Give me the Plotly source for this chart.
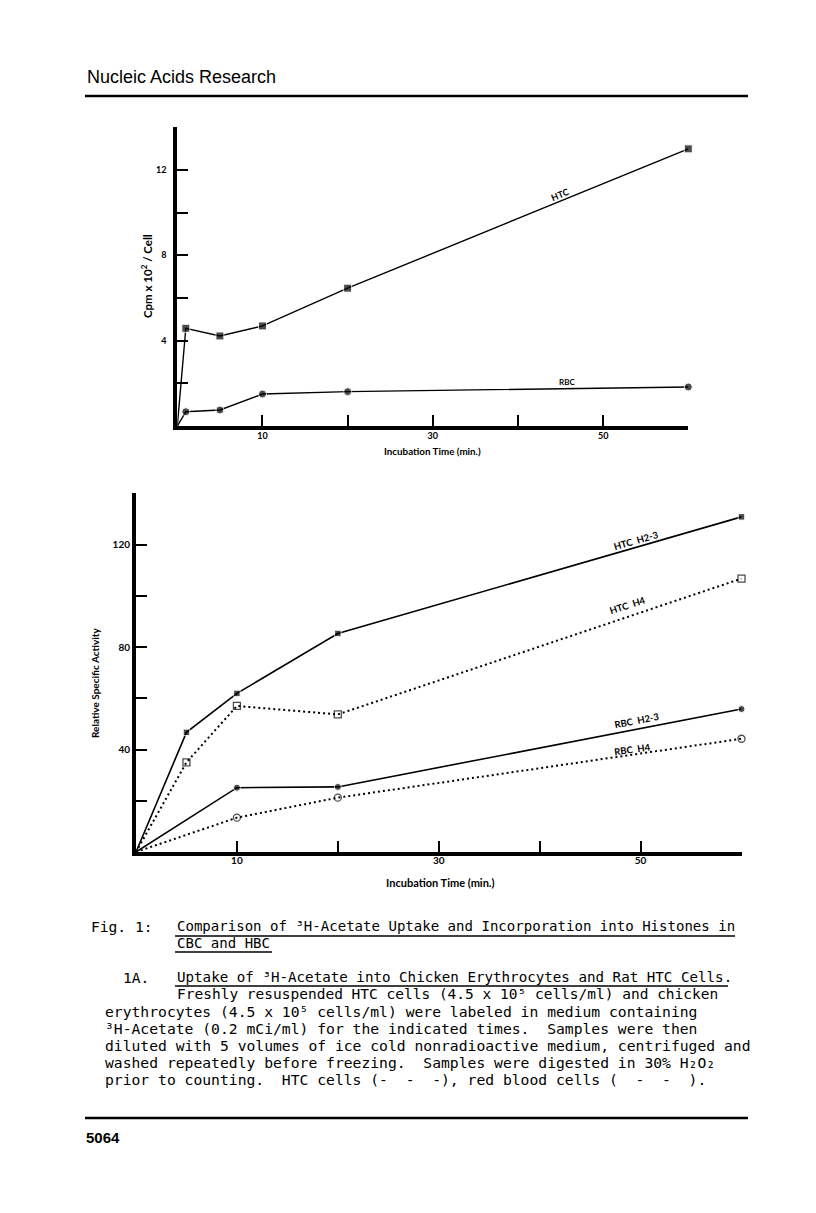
import plotly.graph_objects as go

# page size in px; the html body keeps its 8px margin, so the figure is
# made 16px smaller and every page position is shifted by 8px
PAGE_W, PAGE_H = 816, 1213
OFF = 8
W, H = PAGE_W - 2 * OFF, PAGE_H - 2 * OFF


def px(x):
    return (x - OFF) / W


def py(y):
    return 1 - (y - OFF) / H


# =========================
# Data - Fig. 1A (uptake)
# =========================
time_a = [0, 1, 5, 10, 20, 60]
htc_a = [0, 4.58, 4.22, 4.69, 6.46, 12.99]
rbc_a = [0, 0.67, 0.75, 1.5, 1.61, 1.83]

# =========================
# Data - Fig. 1B (incorporation into histones)
# =========================
time_htc = [0, 5, 10, 20, 60]
htc_h23 = [0, 46.7, 61.9, 85.3, 130.8]
htc_h4 = [0, 35.0, 57.0, 53.7, 106.7]
time_rbc = [0, 10, 20, 60]
rbc_h23 = [0, 25.1, 25.4, 55.8]
rbc_h4 = [0, 13.4, 21.2, 44.2]

# labelled ticks and unlabelled (minor) ticks
ticks_x = [10, 30, 50]
minor_x = [20, 40, 60]
ticks_ya = [4, 8, 12]
minor_ya = [2, 6, 10, 14]
ticks_yb = [40, 80, 120]
minor_yb = [20, 60, 100, 140]

FONT_CHART = "Lato"
FONT_MONO = "DejaVu Sans Mono"


def sizes(xs, s):
    # no marker at the origin
    return [0 if x == 0 else s for x in xs]


fig = go.Figure()

# top chart
fig.add_trace(go.Scatter(
    x=time_a, y=htc_a, mode="lines+markers", xaxis="x", yaxis="y",
    line=dict(color="black", width=1.4),
    marker=dict(symbol="square", size=sizes(time_a, 8), color="black"),
    cliponaxis=False, showlegend=False))
fig.add_trace(go.Scatter(
    x=time_a, y=rbc_a, mode="lines+markers", xaxis="x", yaxis="y",
    line=dict(color="black", width=1.4),
    marker=dict(symbol="circle", size=sizes(time_a, 8), color="black"),
    cliponaxis=False, showlegend=False))

# bottom chart
fig.add_trace(go.Scatter(
    x=time_htc, y=htc_h23, mode="lines+markers", xaxis="x2", yaxis="y2",
    line=dict(color="black", width=1.6),
    marker=dict(symbol="square", size=sizes(time_htc, 6.5), color="black"),
    cliponaxis=False, showlegend=False))
fig.add_trace(go.Scatter(
    x=time_htc, y=htc_h4, mode="lines+markers", xaxis="x2", yaxis="y2",
    line=dict(color="black", width=2, dash="2px,3px"),
    marker=dict(symbol="square-open", size=sizes(time_htc, 7), color="black",
                line=dict(width=1.3)),
    cliponaxis=False, showlegend=False))
fig.add_trace(go.Scatter(
    x=time_rbc, y=rbc_h23, mode="lines+markers", xaxis="x2", yaxis="y2",
    line=dict(color="black", width=1.6),
    marker=dict(symbol="circle", size=sizes(time_rbc, 7), color="black"),
    cliponaxis=False, showlegend=False))
fig.add_trace(go.Scatter(
    x=time_rbc, y=rbc_h4, mode="lines+markers", xaxis="x2", yaxis="y2",
    line=dict(color="black", width=2, dash="2px,3px"),
    marker=dict(symbol="circle-open", size=sizes(time_rbc, 7), color="black",
                line=dict(width=1.3)),
    cliponaxis=False, showlegend=False))


def axis(domain, rng, anchor, tickvals, minorvals, size, standoff):
    return dict(
        domain=domain, range=rng, anchor=anchor,
        tickvals=tickvals, ticklabelstandoff=standoff,
        minor=dict(tickvals=minorvals, ticks="inside", ticklen=11,
                   tickwidth=2, tickcolor="black", showgrid=False),
        tickfont=dict(family=FONT_CHART, size=size, weight="bold", color="black"),
        showline=True, linewidth=4, linecolor="black",
        ticks="inside", ticklen=11, tickwidth=2, tickcolor="black",
        showgrid=False, zeroline=False, fixedrange=True,
    )


fig.update_layout(
    width=W, height=H,
    margin=dict(l=0, r=0, t=0, b=0),
    paper_bgcolor="white", plot_bgcolor="white",
    xaxis=axis([px(177.3), px(688.3)], [0, 60], "y", ticks_x, minor_x, 9, -2),
    yaxis=axis([py(426), py(127.3)], [0, 14], "x", ticks_ya, minor_ya, 9, 5),
    xaxis2=axis([px(136), px(741.5)], [0, 60], "y2", ticks_x, minor_x, 10, -4),
    yaxis2=axis([py(852), py(493.3)], [0, 140], "x2", ticks_yb, minor_yb, 10, 0),
)

annotations = []


def note(text, x, y, size, family=FONT_CHART, weight="bold", angle=0,
         xanchor="center"):
    annotations.append(dict(
        text=text, x=px(x), y=py(y), xref="paper", yref="paper",
        showarrow=False, textangle=angle, xanchor=xanchor, yanchor="middle",
        font=dict(family=family, size=size, weight=weight, color="black")))


# page header / footer
note("Nucleic Acids Research", 85, 77, 18, family="Liberation Sans",
     weight="normal", xanchor="left")
note("5064", 84, 1137, 15, family="Liberation Sans", xanchor="left")

# chart texts
note("Cpm x 10<sup>2</sup> / Cell", 146, 276, 11.5, angle=-90)
note("Incubation Time (min.)", 432, 451, 9.8)
note("HTC", 560, 195, 9, angle=-22)
note("RBC", 567, 382, 8)

note("Relative Specific Activity", 95, 683, 10, angle=-90)
note("Incubation Time (min.)", 440, 882, 11)
note("HTC  H2-3", 636, 540, 9.5, angle=-16)
note("HTC  H4", 627, 605, 9.5, angle=-18)
note("RBC  H2-3", 637, 720, 9.5, angle=-11)
note("RBC  H4", 632, 749, 9.5, angle=-8)

# caption lines (text, left x, centre y, font size)
caption = [
    ("Fig. 1:", 89, 926, 14.6),
    ("Comparison of ³H-Acetate Uptake and Incorporation into Histones in", 175, 926, 14.05),
    ("CBC and HBC", 175, 943, 14.05),
    ("1A.", 121, 977, 14.6),
    ("Uptake of ³H-Acetate into Chicken Erythrocytes and Rat HTC Cells.", 175, 977, 14.2),
    ("Freshly resuspended HTC cells (4.5 x 10⁵ cells/ml) and chicken", 175, 994, 14.5),
    ("erythrocytes (4.5 x 10⁵ cells/ml) were labeled in medium containing", 103, 1011, 14.7),
    ("³H-Acetate (0.2 mCi/ml) for the indicated times.  Samples were then", 103, 1028, 14.7),
    ("diluted with 5 volumes of ice cold nonradioactive medium, centrifuged and", 103, 1045, 14.7),
    ("washed repeatedly before freezing.  Samples were digested in 30% H₂O₂", 103, 1062, 14.7),
    ("prior to counting.  HTC cells (-  -  -), red blood cells (  -  -  ).", 103, 1079, 14.7),
]
for text, x, y, s in caption:
    note(text, x, y, s, family=FONT_MONO, weight="normal", xanchor="left")

fig.update_layout(annotations=annotations)

# rules and underlines
rules = [
    (85, 748, 96, 2.5),
    (85, 748, 1118, 2.5),
    (175, 735, 936, 1.5),
    (175, 272, 952, 1.5),
    (175, 728, 986, 1.5),
]
for x0, x1, y, w in rules:
    fig.add_shape(type="line", xref="paper", yref="paper",
                  x0=px(x0), x1=px(x1), y0=py(y), y1=py(y),
                  line=dict(color="black", width=w))

fig.write_html("out.html")
